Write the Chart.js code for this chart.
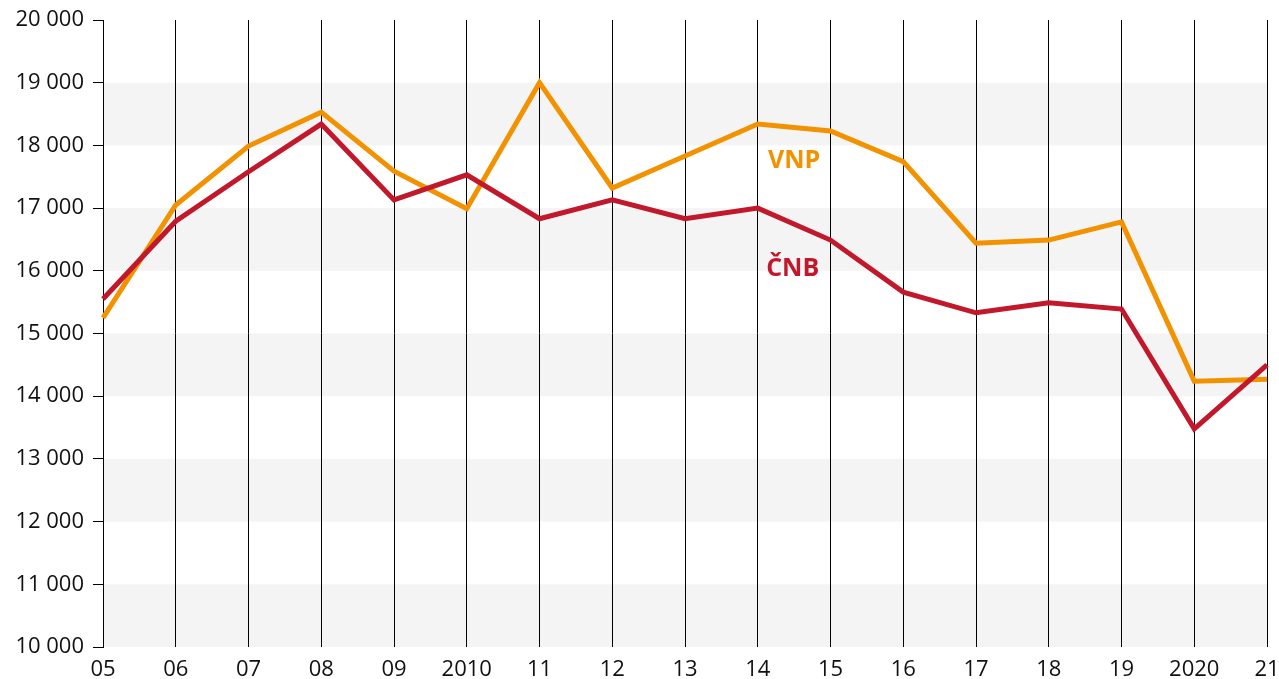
<!DOCTYPE html>
<html><head><meta charset="utf-8">
<script src="https://cdn.jsdelivr.net/npm/chart.js@4/dist/chart.umd.min.js"></script>
<style>html,body{margin:0;padding:0;background:#fff;}#wrap{width:1279px;height:679px;}</style>
</head><body><div id="wrap"><canvas id="c" width="1279" height="679"></canvas></div>
<script>
const categories = ['05','06','07','08','09','2010','11','12','13','14','15','16','17','18','19','2020','21'];
const cnb = [15550,16790,17580,18340,17130,17530,16830,17130,16830,17000,16490,15660,15330,15490,15390,13480,14500];
const vnp = [15250,17050,17990,18530,17590,16990,19000,17320,17830,18340,18230,17740,16440,16490,16780,14240,14270];
const yTicks = [10000,11000,12000,13000,14000,15000,16000,17000,18000,19000,20000];
const bands = [[10000,11000],[12000,13000],[14000,15000],[16000,17000],[18000,19000]];
const seriesLabels = [{text:'VNP', x:9.5, y:17760, color:'#f39200'},{text:'ČNB', x:9.48, y:16030, color:'#c1182b'}];

const FONT = '"Open Sans", "Noto Sans", sans-serif';

const bandUnder = {
  id:'bandUnder',
  beforeDraw(chart){
    const {ctx, chartArea, scales:{y}} = chart;
    if(!y) return;
    ctx.save();
    ctx.fillStyle = '#f4f4f4';
    bands.forEach(([a,b])=>{
      const y1 = y.getPixelForValue(b), y2 = y.getPixelForValue(a);
      ctx.fillRect(chartArea.left, y1, chartArea.right-chartArea.left, y2-y1);
    });
    ctx.restore();
  }
};
const labelPlugin = {
  id:'labels',
  afterDatasetsDraw(chart){
    const {ctx, scales:{x,y}} = chart;
    ctx.save();
    ctx.font = 'bold 25px ' + FONT;
    ctx.textAlign = 'center';
    ctx.textBaseline = 'middle';
    seriesLabels.forEach(l=>{
      ctx.fillStyle = l.color;
      ctx.fillText(l.text, x.getPixelForValue(l.x), y.getPixelForValue(l.y));
    });
    ctx.restore();
  }
};

new Chart(document.getElementById('c'), {
  type:'line',
  data:{
    labels: categories,
    datasets:[
      {label:'ČNB', data:cnb, borderColor:'#c1182b', borderWidth:5, pointRadius:0, tension:0, borderJoinStyle:'miter'},
      {label:'VNP', data:vnp, borderColor:'#f39200', borderWidth:5, pointRadius:0, tension:0, borderJoinStyle:'miter'}
    ]
  },
  options:{
    responsive:false, animation:false,
    layout:{padding:{left:0,right:12,top:20,bottom:0}},
    plugins:{legend:{display:false}, tooltip:{enabled:false}},
    scales:{
      x:{
        offset:false,
        afterFit(s){ s.height = 32; s.paddingRight = 0; s.paddingLeft = 0; },
        grid:{color:'#000', lineWidth:1, drawTicks:false, offset:false},
        border:{display:false},
        ticks:{color:'#111', font:{family:FONT, size:22}, padding:10, maxRotation:0, autoSkip:false}
      },
      y:{
        min:10000, max:20000,
        afterBuildTicks(s){ s.ticks = yTicks.map(v=>({value:v})); },
        afterFit(s){ s.width = 103; s.paddingTop = 0; s.paddingBottom = 0; },
        grid:{drawOnChartArea:false, drawTicks:true, tickLength:10, color:'#000'},
        border:{display:true, color:'#000', width:1},
        ticks:{color:'#111', font:{family:FONT, size:22}, padding:9,
          callback:v=>String(v).replace(/\B(?=(\d{3})+(?!\d))/g,' ')}
      }
    }
  },
  plugins:[bandUnder, labelPlugin]
});
</script></body></html>
